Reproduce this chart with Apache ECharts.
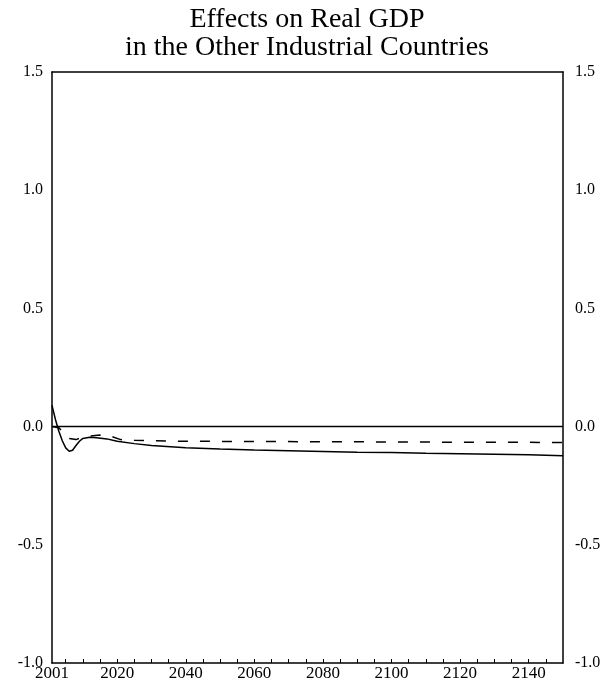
<!DOCTYPE html>
<html>
<head>
<meta charset="utf-8">
<script src="https://cdn.jsdelivr.net/npm/echarts@6/dist/echarts.min.js"></script>
<style>
html,body{margin:0;padding:0;background:#fff;}
#chart{width:614px;height:690px;}
</style>
</head>
<body>
<div id="chart"></div>
<script>
// ---- data ----
const titleLines = ['Effects on Real GDP', 'in the Other Industrial Countries'];
const xLabelValues = [2001, 2020, 2040, 2060, 2080, 2100, 2120, 2140];
const xMinorTicks = [2005, 2010, 2015, 2020, 2025, 2030, 2035, 2040, 2045, 2050, 2055, 2060, 2065, 2070, 2075, 2080, 2085, 2090, 2095, 2100, 2105, 2110, 2115, 2120, 2125, 2130, 2135, 2140, 2145];
const yTicks = [-1.0, -0.5, 0.0, 0.5, 1.0, 1.5];

const solidYears  = [2001, 2002, 2003, 2004, 2005, 2006, 2007, 2008, 2009, 2010, 2012, 2014, 2017, 2020, 2025, 2030, 2040, 2050, 2060, 2070, 2080, 2090, 2100, 2110, 2120, 2130, 2140, 2150];
const solidValues = [0.09, 0.03, -0.02, -0.06, -0.09, -0.104, -0.10, -0.08, -0.062, -0.05, -0.045, -0.047, -0.052, -0.062, -0.072, -0.08, -0.089, -0.095, -0.099, -0.102, -0.105, -0.108, -0.110, -0.113, -0.115, -0.117, -0.119, -0.123];

const dashedYears  = [2001, 2003, 2004, 2005, 2006, 2008, 2010, 2012, 2015, 2018, 2021, 2025, 2030, 2040, 2060, 2080, 2100, 2120, 2150];
const dashedValues = [0.0, -0.005, -0.02, -0.04, -0.05, -0.055, -0.045, -0.04, -0.036, -0.04, -0.055, -0.058, -0.06, -0.062, -0.063, -0.064, -0.065, -0.066, -0.067];

const zeroYears  = [2001, 2150];
const zeroValues = [0, 0];

const pair = (xs, ys) => xs.map((x, i) => [x, ys[i]]);

const FONT = '"Liberation Serif", "DejaVu Serif", serif';
const chart = echarts.init(document.getElementById('chart'));

const yLabelFmt = v => v.toFixed(1);
const xLabelFmt = v => String(v);

chart.setOption({
  animation: false,
  backgroundColor: '#fff',
  title: {
    text: titleLines.join('\n'),
    left: 'center',
    top: 1,
    textStyle: { fontFamily: FONT, fontSize: 28, fontWeight: 'normal', color: '#000', lineHeight: 28 }
  },
  grid: { left: 52, right: 51, top: 72, bottom: 27, containLabel: false },
  xAxis: [{
    type: 'value', min: 2001, max: 2150, position: 'bottom',
    axisLine: { show: true, onZero: false, lineStyle: { color: '#000', width: 1.5 } },
    axisTick: { show: true, inside: true, length: 4, customValues: xMinorTicks, lineStyle: { color: '#000' } },
    axisLabel: { customValues: xLabelValues, formatter: xLabelFmt, color: '#000', fontFamily: FONT, fontSize: 17, margin: 2 },
    splitLine: { show: false }
  }, {
    type: 'value', min: 2001, max: 2150, position: 'top',
    axisLine: { show: true, onZero: false, lineStyle: { color: '#000', width: 1.5 } },
    axisTick: { show: false }, axisLabel: { show: false }, splitLine: { show: false }
  }],
  yAxis: [{
    type: 'value', min: -1.0, max: 1.5, position: 'left',
    axisLine: { show: true, onZero: false, lineStyle: { color: '#000', width: 1.5 } },
    axisTick: { show: false },
    axisLabel: { customValues: yTicks, formatter: yLabelFmt, color: '#000', fontFamily: FONT, fontSize: 16, margin: 9 },
    splitLine: { show: false }
  }, {
    type: 'value', min: -1.0, max: 1.5, position: 'right',
    axisLine: { show: true, onZero: false, lineStyle: { color: '#000', width: 1.5 } },
    axisTick: { show: false },
    axisLabel: { customValues: yTicks, formatter: yLabelFmt, color: '#000', fontFamily: FONT, fontSize: 16, margin: 12 },
    splitLine: { show: false }
  }],
  series: [{
    name: 'zero', type: 'line', data: pair(zeroYears, zeroValues),
    symbol: 'none', lineStyle: { color: '#000', width: 1.5 }
  }, {
    name: 'solid', type: 'line', data: pair(solidYears, solidValues),
    symbol: 'none', lineStyle: { color: '#000', width: 1.5 }
  }, {
    name: 'dashed', type: 'line', data: pair(dashedYears, dashedValues),
    symbol: 'none', lineStyle: { color: '#000', width: 1.5, type: [10, 12] }
  }]
});
</script>
</body>
</html>
